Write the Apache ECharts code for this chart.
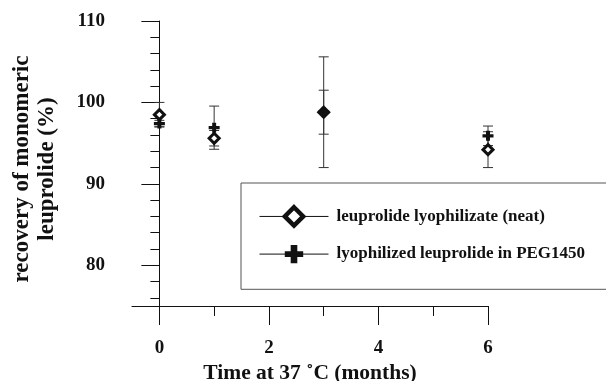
<!DOCTYPE html>
<html>
<head>
<meta charset="utf-8">
<script src="https://cdn.jsdelivr.net/npm/echarts@6/dist/echarts.min.js"></script>
<style>
  html, body { margin: 0; padding: 0; background: #fff; }
  #chart { width: 606px; height: 381px; }
</style>
</head>
<body>
<div id="chart"></div>
<script>
// Storage time at 37 °C (months)
const months = [0, 1, 3, 6];

// Leuprolide lyophilizate (neat): mean recovery and error half-width (%)
const neatMean = [98.5, 95.6, 98.8, 94.2];
const neatErr  = [1.5, 0.95, 6.8, 2.2];

// Lyophilized leuprolide in PEG1450: mean recovery and error half-width (%)
const pegMean = [97.4, 96.9, 98.8, 95.9];
const pegErr  = [0.4, 2.65, 2.7, 1.2];

const seriesNames = ['leuprolide lyophilizate (neat)', 'lyophilized leuprolide in PEG1450'];

// Axis ticks
const xMajorTicks = [0, 2, 4, 6];
const xMinorTicks = [1, 3, 5];
const yMajorTicks = [80, 90, 100, 110];
const yMinorTicks = [76, 78, 82, 84, 86, 88, 92, 94, 96, 98, 102, 104, 106, 108];

const FONT = '"Liberation Serif", "Times New Roman", serif';
const INK = '#111';

const plusPath = 'path://M3.2,0H6.8V3.4H10V6.6H6.8V10H3.2V6.6H0V3.4H3.2Z';

function errorData(mean, err) {
  return months.map((m, i) => [m, mean[i] - err[i], mean[i] + err[i]]);
}
function pointData(mean) {
  return months.map((m, i) => [m, mean[i]]);
}

function errorBarSeries(data) {
  return {
    type: 'custom',
    xAxisIndex: 0,
    yAxisIndex: 0,
    silent: true,
    z: 2,
    data: data,
    renderItem: function (params, api) {
      const x = api.value(0);
      const lo = api.coord([x, api.value(1)]);
      const hi = api.coord([x, api.value(2)]);
      const half = 5;
      const style = { stroke: '#333', lineWidth: 1 };
      return {
        type: 'group',
        children: [
          { type: 'line', shape: { x1: lo[0], y1: lo[1], x2: hi[0], y2: hi[1] }, style: style },
          { type: 'line', shape: { x1: hi[0] - half, y1: hi[1], x2: hi[0] + half, y2: hi[1] }, style: style },
          { type: 'line', shape: { x1: lo[0] - half, y1: lo[1], x2: lo[0] + half, y2: lo[1] }, style: style }
        ]
      };
    }
  };
}

const chart = echarts.init(document.getElementById('chart'), null, { renderer: 'canvas' });

const axisLineStyle = { color: INK, width: 1 };
const labelStyle = { color: INK, fontFamily: FONT, fontWeight: 'bold', fontSize: 19 };

chart.setOption({
  animation: false,
  backgroundColor: '#fff',
  grid: { left: 132, top: 21, width: 356, height: 285, containLabel: false, outerBoundsMode: 'none' },
  xAxis: [
    {
      type: 'value', min: -0.5, max: 6, position: 'bottom',
      axisLine: { show: true, lineStyle: axisLineStyle },
      axisTick: { show: true, length: 19, customValues: xMajorTicks, lineStyle: axisLineStyle },
      axisLabel: { show: true, customValues: xMajorTicks, margin: 33, ...labelStyle },
      splitLine: { show: false },
      name: 'Time at 37 \u02DAC (months)',
      nameLocation: 'middle',
      nameGap: 48,
      nameTextStyle: { ...labelStyle, fontSize: 21.5 }
    },
    {
      type: 'value', min: -0.5, max: 6, position: 'bottom',
      axisLine: { show: false },
      axisTick: { show: true, length: 10, customValues: xMinorTicks, lineStyle: axisLineStyle },
      axisLabel: { show: false },
      splitLine: { show: false }
    }
  ],
  yAxis: [
    {
      type: 'value', min: 75, max: 110, position: 'left',
      axisLine: { show: true, lineStyle: axisLineStyle },
      axisTick: { show: true, length: 18, customValues: yMajorTicks, lineStyle: axisLineStyle },
      axisLabel: { show: true, customValues: yMajorTicks, margin: 27, ...labelStyle },
      splitLine: { show: false },
      name: 'recovery of monomeric\nleuprolide (%)',
      nameLocation: 'middle',
      nameRotate: 90,
      nameGap: 72,
      nameTextStyle: { ...labelStyle, fontSize: 23, lineHeight: 25, padding: [0, 11, 0, 0] }
    },
    {
      type: 'value', min: 75, max: 110, position: 'left',
      axisLine: { show: false },
      axisTick: { show: true, length: 9, customValues: yMinorTicks, lineStyle: axisLineStyle },
      axisLabel: { show: false },
      splitLine: { show: false }
    }
  ],
  legend: {
    orient: 'vertical',
    left: 241,
    top: 183,
    padding: [22, 60, 26, 18],
    itemGap: 17,
    itemWidth: 69,
    itemHeight: 23,
    borderColor: '#555',
    borderWidth: 1,
    backgroundColor: '#fff',
    data: [
      { name: seriesNames[0], itemStyle: { borderWidth: 4.5 } },
      { name: seriesNames[1] }
    ],
    lineStyle: { color: INK, width: 1, opacity: 1 },
    textStyle: { color: INK, fontFamily: FONT, fontWeight: 'bold', fontSize: 17, padding: [0, 0, 0, 3] }
  },
  series: [
    errorBarSeries(errorData(neatMean, neatErr)),
    errorBarSeries(errorData(pegMean, pegErr)),
    {
      name: seriesNames[0],
      type: 'line',
      xAxisIndex: 0, yAxisIndex: 0,
      data: pointData(neatMean),
      symbol: 'diamond',
      symbolSize: 10,
      showSymbol: true,
      lineStyle: { opacity: 0, color: INK },
      itemStyle: { color: '#fff', borderColor: INK, borderWidth: 3 },
      z: 4
    },
    {
      name: seriesNames[1],
      type: 'line',
      xAxisIndex: 0, yAxisIndex: 0,
      data: pointData(pegMean),
      symbol: plusPath,
      symbolSize: [11, 10],
      showSymbol: true,
      lineStyle: { opacity: 0, color: INK },
      itemStyle: { color: INK, borderWidth: 0 },
      z: 5
    }
  ]
});
</script>
</body>
</html>
